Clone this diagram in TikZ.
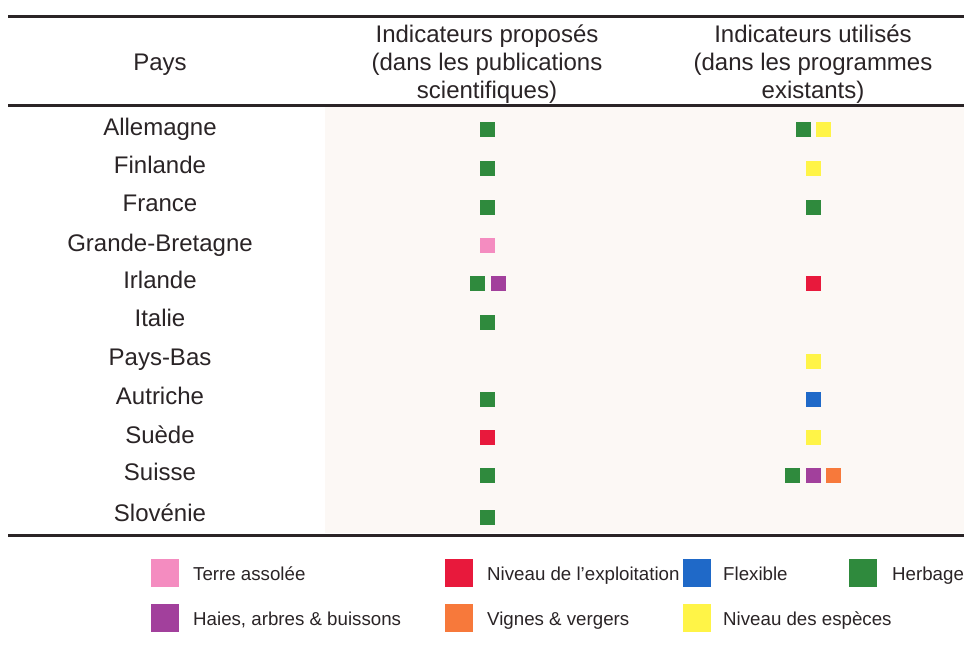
\documentclass[tikz,border=0pt]{standalone}
\usepackage{fontspec}
\setmainfont{Liberation Sans}
\definecolor{ink}{HTML}{2A2426}
\definecolor{tint}{HTML}{FCF8F5}
\definecolor{cgreen}{HTML}{2F8A3D}
\definecolor{cpink}{HTML}{F48CC0}
\definecolor{cpurple}{HTML}{A2409C}
\definecolor{cred}{HTML}{E8193C}
\definecolor{cblue}{HTML}{1F69C8}
\definecolor{corange}{HTML}{F7793B}
\definecolor{cyellow}{HTML}{FFF447}
\begin{document}
\begin{tikzpicture}[x=1pt,y=-1pt,
  rowlabel/.style={font=\fontsize{24}{28}\selectfont, text=ink, inner sep=0, anchor=base},
  hdr/.style={font=\fontsize{24}{28}\selectfont, text=ink, inner sep=0, align=center, anchor=north},
  sq/.style={minimum size=15pt, inner sep=0, outer sep=0, draw=none},
  lsq/.style={minimum size=28pt, inner sep=0, outer sep=0, draw=none},
  leg/.style={font=\fontsize{18.7}{22}\selectfont, text=ink, inner sep=0, anchor=base west},
  rulel/.style={line width=3pt, draw=ink}]
\useasboundingbox (0,0) rectangle (964,648);
\fill[white] (0,0) rectangle (964,648);
\fill[tint] (325,107) rectangle (964,533);
% rules
\draw[rulel] (8,16) -- (964,16);
\draw[rulel] (8,105) -- (964,105);
\draw[rulel] (8,535) -- (964,535);
% header
\node[rowlabel] (hpays) at (160,70) {Pays};
\node[hdr] (hprop) at (487,24.5) {Indicateurs proposés\\(dans les publications\\scientifiques)};
\node[hdr] (hutil) at (813,24.5) {Indicateurs utilisés\\(dans les programmes\\existants)};
% row labels
\node[rowlabel] (r1) at (160,135.5) {Allemagne};
\node[rowlabel] (r2) at (160,173.5) {Finlande};
\node[rowlabel] (r3) at (160,211.5) {France};
\node[rowlabel] (r4) at (160,251) {Grande-Bretagne};
\node[rowlabel] (r5) at (160,288.5) {Irlande};
\node[rowlabel] (r6) at (160,326.5) {Italie};
\node[rowlabel] (r7) at (160,365.5) {Pays-Bas};
\node[rowlabel] (r8) at (160,404.5) {Autriche};
\node[rowlabel] (r9) at (160,443.5) {Suède};
\node[rowlabel] (r10) at (160,480.5) {Suisse};
\node[rowlabel] (r11) at (160,521.5) {Slovénie};
% proposed indicators
\node[sq, fill=cgreen] (p1) at (487,129) {};
\node[sq, fill=cgreen] (p2) at (487,168) {};
\node[sq, fill=cgreen] (p3) at (487,207) {};
\node[sq, fill=cpink] (p4) at (487,245) {};
\node[sq, fill=cgreen] (p5a) at (477,283) {};
\node[sq, fill=cpurple] (p5b) at (498,283) {};
\node[sq, fill=cgreen] (p6) at (487,322) {};
\node[sq, fill=cgreen] (p8) at (487,399) {};
\node[sq, fill=cred] (p9) at (487,437) {};
\node[sq, fill=cgreen] (p10) at (487,475) {};
\node[sq, fill=cgreen] (p11) at (487,517) {};
% used indicators
\node[sq, fill=cgreen] (u1a) at (803,129) {};
\node[sq, fill=cyellow] (u1b) at (823,129) {};
\node[sq, fill=cyellow] (u2) at (813,168) {};
\node[sq, fill=cgreen] (u3) at (813,207) {};
\node[sq, fill=cred] (u5) at (813,283) {};
\node[sq, fill=cyellow] (u7) at (813,361) {};
\node[sq, fill=cblue] (u8) at (813,399) {};
\node[sq, fill=cyellow] (u9) at (813,437) {};
\node[sq, fill=cgreen] (u10a) at (792,475) {};
\node[sq, fill=cpurple] (u10b) at (813,475) {};
\node[sq, fill=corange] (u10c) at (833,475) {};
% legend
\node[lsq, fill=cpink] (lk1) at (165,573) {};
\node[leg] (lt1) at (193,580) {Terre assolée};
\node[lsq, fill=cred] (lk2) at (458.5,573) {};
\node[leg] (lt2) at (487,580) {Niveau de l'exploitation};
\node[lsq, fill=cblue] (lk3) at (697,573) {};
\node[leg] (lt3) at (723,580) {Flexible};
\node[lsq, fill=cgreen] (lk4) at (863,573) {};
\node[leg] (lt4) at (892,580) {Herbage};
\node[lsq, fill=cpurple] (lk5) at (165,618) {};
\node[leg] (lt5) at (193,625) {Haies, arbres \& buissons};
\node[lsq, fill=corange] (lk6) at (458.5,618) {};
\node[leg] (lt6) at (487,625) {Vignes \& vergers};
\node[lsq, fill=cyellow] (lk7) at (697,618) {};
\node[leg] (lt7) at (723,625) {Niveau des espèces};
\end{tikzpicture}
\end{document}
